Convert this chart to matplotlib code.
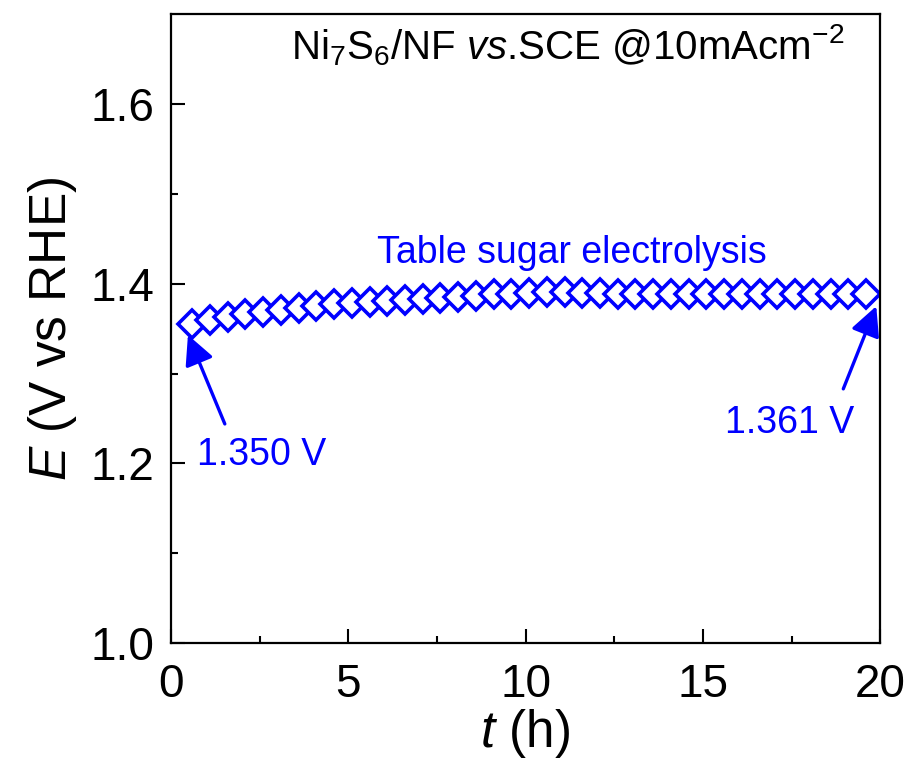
import matplotlib
matplotlib.use("Agg")
import matplotlib.pyplot as plt

plt.rcParams["font.family"] = ["Liberation Sans", "DejaVu Sans"]
plt.rcParams["mathtext.fontset"] = "custom"
plt.rcParams["mathtext.rm"] = "Liberation Sans"
plt.rcParams["mathtext.it"] = "Liberation Sans:italic"

# time (h) and potential (V vs RHE)
t = [0.6, 1.1, 1.6, 2.1, 2.6, 3.1, 3.6, 4.1, 4.6, 5.1,
     5.6, 6.1, 6.6, 7.1, 7.6, 8.1, 8.6, 9.1, 9.6, 10.1,
     10.6, 11.1, 11.6, 12.1, 12.6, 13.1, 13.6, 14.1, 14.6, 15.1,
     15.6, 16.1, 16.6, 17.1, 17.6, 18.1, 18.6, 19.1, 19.6]
E = [1.355, 1.360, 1.363, 1.366, 1.369, 1.371, 1.373, 1.375, 1.377, 1.378,
     1.380, 1.381, 1.382, 1.383, 1.384, 1.385, 1.386, 1.388, 1.389, 1.390,
     1.391, 1.391, 1.390, 1.390, 1.389, 1.389, 1.389, 1.389, 1.389, 1.389,
     1.389, 1.389, 1.389, 1.389, 1.389, 1.389, 1.389, 1.389, 1.389]

start_label = "1.350 V"
end_label = "1.361 V"
blue = "#0000ff"

fig = plt.figure(figsize=(9.14, 7.76), dpi=100)
ax = fig.add_axes([0.187, 0.171, 0.776, 0.811])

ax.plot(t, E, linestyle="none", marker="D", markersize=14,
        markerfacecolor="white", markeredgecolor=blue, markeredgewidth=2.6)

ax.set_xlim(0, 20)
ax.set_ylim(1.0, 1.7)
ax.set_xticks([0, 5, 10, 15, 20])
ax.set_xticks([2.5, 7.5, 12.5, 17.5], minor=True)
ax.set_yticks([1.0, 1.2, 1.4, 1.6])
ax.set_yticks([1.1, 1.3, 1.5], minor=True)
ax.set_yticklabels(["1.0", "1.2", "1.4", "1.6"])

ax.tick_params(which="both", direction="in", top=False, right=False,
               labelsize=33, width=1.5)
ax.tick_params(which="major", length=10)
ax.tick_params(axis="x", which="major", pad=14)
ax.tick_params(axis="y", which="major", pad=12)
ax.tick_params(which="minor", length=5)
for s in ax.spines.values():
    s.set_linewidth(1.6)

ax.set_xlabel("$t$ (h)", fontsize=37, labelpad=0)
ax.set_ylabel("$E$ (V vs RHE)", fontsize=37, labelpad=8)

ax.text(11.2, 1.665, r"Ni$_7$S$_6$/NF $vs$.SCE @10mAcm$^{-2}$",
        fontsize=29, ha="center", va="center")
ax.text(11.3, 1.434, "Table sugar electrolysis", color=blue,
        fontsize=27, ha="center", va="center")

ax.text(2.55, 1.21, start_label, color=blue, fontsize=27, ha="center", va="center")
ax.text(17.45, 1.245, end_label, color=blue, fontsize=27, ha="center", va="center")

arrow = dict(arrowstyle="-|>,head_length=0.6,head_width=0.3", color=blue, lw=2.4,
             mutation_scale=30, shrinkA=0, shrinkB=0)
ax.annotate("", xy=(0.48, 1.343), xytext=(1.52, 1.244), arrowprops=arrow)
ax.annotate("", xy=(19.89, 1.375), xytext=(18.96, 1.283), arrowprops=arrow)

fig.savefig("out.png", dpi=100)
